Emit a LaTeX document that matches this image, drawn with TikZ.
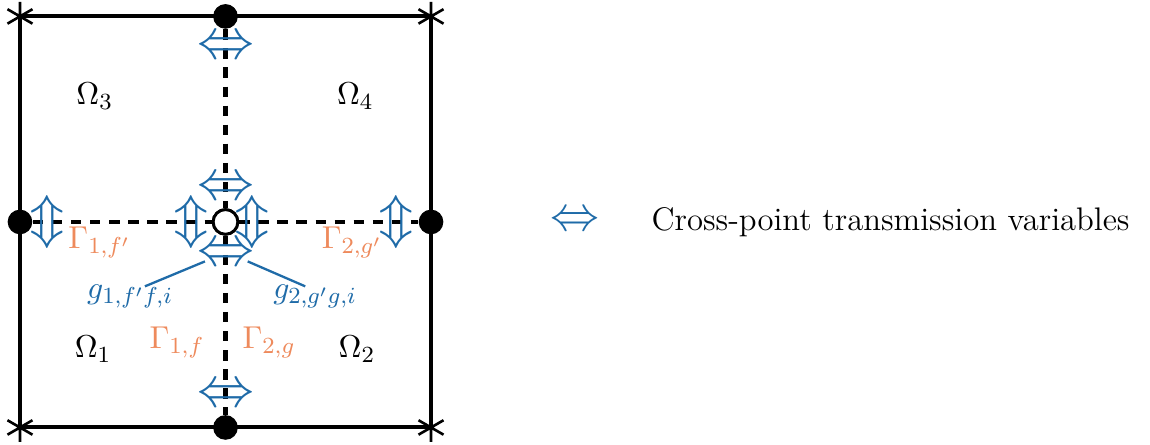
\documentclass[tikz,border=0pt]{standalone}
\usepackage{xcolor}
\usepackage{tikz}
\usetikzlibrary{positioning, arrows.meta, plotmarks}
\definecolor{cpblue}{HTML}{1F6BA8}
\definecolor{cporange}{HTML}{EE8A5C}

\tikzset{
  every node/.append style={font=\fontsize{11.3pt}{13.6pt}\selectfont},
  tvar/.style={text=cpblue, inner sep=0pt, scale=1.8},
  bdot/.style={circle, fill=black, inner sep=0pt, minimum size=0.3cm},
  gamlabel/.style={text=cporange, inner sep=1pt},
  glabel/.style={text=cpblue},
  cutline/.style={line width=1.4pt, dash pattern=on 3.6pt off 3pt},
}

\begin{document}
\begin{tikzpicture}
  \useasboundingbox (-0.243,-0.21) rectangle (13.746,5.2);
  % subdomains
  \draw[line width=1.4pt] (0,0) rectangle (5,5);
  \draw[line width=0.9pt] plot[only marks, mark=asterisk, mark size=5pt] coordinates {(0,0) (5,0) (5,5) (0,5)};
  \node[bdot] (top) at (2.5,5) {};
  \node[bdot] (bot) at (2.5,0) {};
  \node[bdot] (lft) at (0,2.5) {};
  \node[bdot] (rgt) at (5,2.5) {};
  \node[circle, draw, fill=white, line width=1pt, inner sep=0pt, minimum size=0.3cm] (c) at (2.5,2.5) {};
  \draw[cutline] (lft) -- (c) -- (rgt);
  \draw[cutline] (top) -- (c) -- (bot);
  \node[circle, draw, fill=white, line width=1pt, inner sep=0pt, minimum size=0.3cm] at (c) {};

  \node at (0.91,4.03) {$\Omega_3$};
  \node at (4.08,4.03) {$\Omega_4$};
  \node at (0.89,0.95) {$\Omega_1$};
  \node at (4.10,0.95) {$\Omega_2$};

  \node[gamlabel] (G1fp) at (0.97,2.25) {$\Gamma_{1,f'}$};
  \node[gamlabel] (G2gp) at (4.04,2.25) {$\Gamma_{2,g'}$};
  \node[gamlabel] (G1f) at (1.91,1.03) {$\Gamma_{1,f}$};
  \node[gamlabel] (G2g) at (3.03,1.03) {$\Gamma_{2,g}$};

  % cross-point variables
  \node[tvar] (ttop) at ([yshift=-0.38cm]top) {$\Leftrightarrow$};
  \node[tvar] (tbot) at ([yshift=0.38cm]bot) {$\Leftrightarrow$};
  \node[tvar, rotate=90] (tlft) at ([xshift=0.38cm]lft) {$\Leftrightarrow$};
  \node[tvar, rotate=90] (trgt) at ([xshift=-0.38cm]rgt) {$\Leftrightarrow$};
  \node[tvar] (cn) at ([yshift=0.4cm]c) {$\Leftrightarrow$};
  \node[tvar] (cs) at ([yshift=-0.4cm]c) {$\Leftrightarrow$};
  \node[tvar, rotate=90] (cw) at ([xshift=-0.37cm]c) {$\Leftrightarrow$};
  \node[tvar, rotate=90] (ce) at ([xshift=0.37cm]c) {$\Leftrightarrow$};

  \node[glabel] (g1) at (1.34,1.59) {$g_{1,f'f,i}$};
  \node[glabel] (g2) at (3.59,1.59) {$g_{2,g'g,i}$};
  \coordinate (p1) at (2.25,2.02);
  \coordinate (p2) at (2.77,2.02);
  \draw[cpblue, thick] ([xshift=1.8mm, yshift=-1.4mm]g1.north) -- (p1);
  \draw[cpblue, thick] ([xshift=-1.2mm, yshift=-1.4mm]g2.north) -- (p2);

  % legend
  \node[tvar, scale=0.86] (leg) at (6.75,2.5) {$\Leftrightarrow$};
  \node[right=0.5cm of leg] (legtext) {Cross-point transmission variables};
\end{tikzpicture}
\end{document}
